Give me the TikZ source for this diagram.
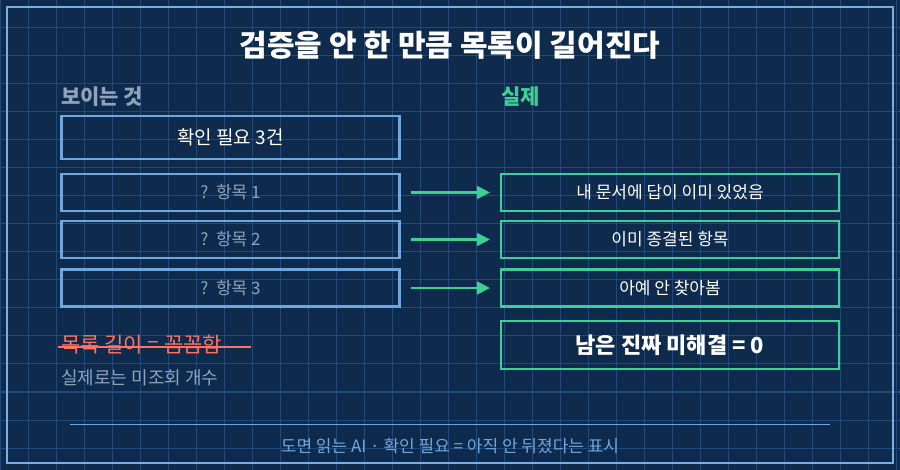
\documentclass[tikz,border=0pt]{standalone}
\usepackage{fontspec}
\setmainfont{Noto Sans CJK KR}
\usetikzlibrary{positioning,arrows.meta}
\definecolor{bgnavy}{HTML}{0E2A4D}
\definecolor{gridline}{HTML}{23487A}
\definecolor{frameblue}{HTML}{7AAEE0}
\definecolor{seenblue}{HTML}{6FA8DC}
\definecolor{realgreen}{HTML}{3ECF96}
\definecolor{warnred}{HTML}{FF7361}
\definecolor{mutedgray}{HTML}{8FA3BD}
\tikzset{
  seen/.style={draw=seenblue, line width=2.2pt, minimum width=338pt, minimum height=37pt, inner sep=0pt},
  real/.style={draw=realgreen, line width=2.2pt, minimum width=338pt, minimum height=37pt, inner sep=0pt, text=white, font=\fontsize{17}{20}\selectfont},
  maps/.style={-{Triangle[length=13pt,width=13pt]}, realgreen, line width=2.2pt},
}
\begin{document}
\begin{tikzpicture}[x=1pt,y=-1pt]
\fill[bgnavy] (0,0) rectangle (900,470);
\useasboundingbox (0,0) rectangle (900,470);
\foreach \gx in {0,28,...,900} \draw[gridline, line width=1pt] (\gx,0) -- (\gx,470);
\foreach \gy in {0,28,...,470} \draw[gridline, line width=1pt] (0,\gy) -- (900,\gy);
\draw[frameblue, line width=2pt] (7,7) rectangle (893,463);

\node[text=white, font=\fontsize{30}{35}\selectfont\bfseries] (title) at (450,45) {검증을 안 한 만큼 목록이 길어진다};
\node[anchor=west, text=mutedgray, font=\fontsize{21}{25}\selectfont\bfseries, inner sep=0pt] (seenhead) at (61,97) {보이는 것};
\node[anchor=west, text=realgreen, font=\fontsize{21}{25}\selectfont\bfseries, inner sep=0pt] (realhead) at (501,97) {실제};

\node[seen, minimum height=43pt, text=white, font=\fontsize{19}{22}\selectfont] (count) at (230.5,137.5) {확인 필요 3건};
\node[seen, text=mutedgray, font=\fontsize{17}{20}\selectfont] (item1) at (230.5,192.5) {?\ \ 항목 1};
\node[seen, text=mutedgray, font=\fontsize{17}{20}\selectfont] (item2) at (230.5,239.5) {?\ \ 항목 2};
\node[seen, text=mutedgray, font=\fontsize{17}{20}\selectfont] (item3) at (230.5,288) {?\ \ 항목 3};

\node[real] (fact1) at (670,192.5) {내 문서에 답이 이미 있었음};
\node[real] (fact2) at (670,239.5) {이미 종결된 항목};
\node[real] (fact3) at (670,288) {아예 안 찾아봄};
\node[real, minimum height=48pt, font=\fontsize{22}{26}\selectfont\bfseries] (left0) at (670,345) {남은 진짜 미해결 = 0};

\foreach \k in {1,2,3} \draw[maps] ([xshift=10pt]item\k.east) -- ([xshift=-10pt]fact\k.west);

\node[anchor=west, text=warnred, font=\fontsize{21}{24}\selectfont, inner sep=0pt] (claim) at (61,345) {목록\ 길이 = 꼼꼼함};
\draw[warnred, line width=2.2pt] (58,347) -- (251,347);
\node[anchor=west, text=mutedgray, font=\fontsize{18}{21}\selectfont, inner sep=0pt] (truth) at (61,378) {실제로는 미조회 개수};

\draw[seenblue, line width=1pt] (70,424) coordinate (rl) -- (830,424) coordinate (rr);
\node[text=seenblue, font=\fontsize{17}{20}\selectfont] (footer) at (450,446) {도면 읽는 AI · 확인 필요 = 아직 안 뒤졌다는 표시};
\end{tikzpicture}
\end{document}
